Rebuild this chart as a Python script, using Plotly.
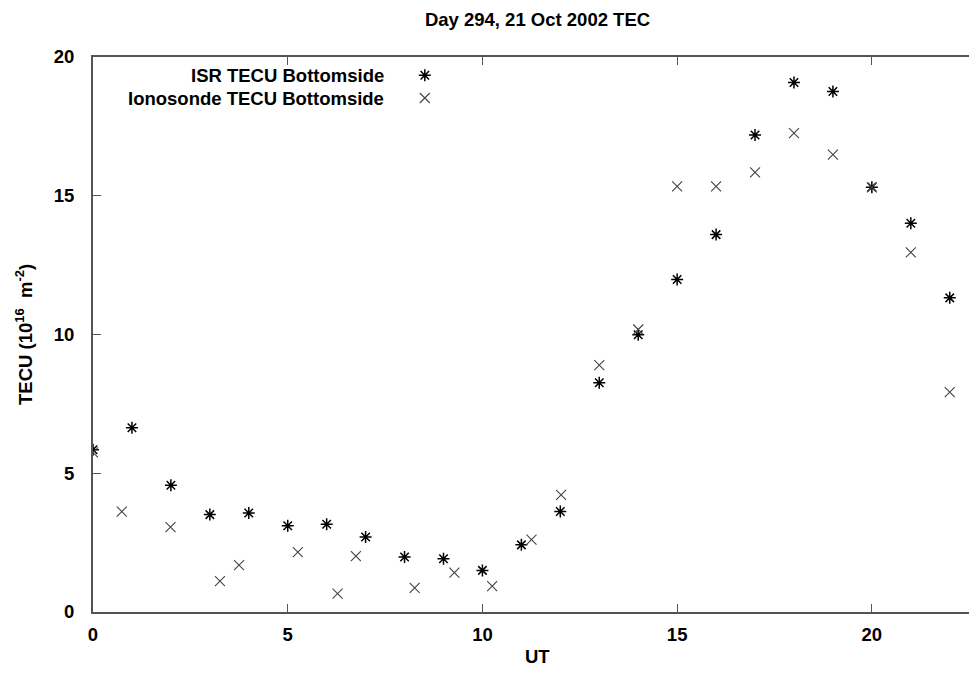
import plotly.graph_objects as go

# ISR TECU bottomside (hourly)
isr_ut = [0, 1, 2, 3, 4, 5, 6, 7, 8, 9, 10, 11, 12, 13, 14, 15, 16, 17, 18, 19, 20, 21, 22]
isr_tec = [5.85, 6.64, 4.57, 3.51, 3.57, 3.11, 3.16, 2.70, 1.98, 1.92, 1.50, 2.42, 3.62,
           8.26, 9.99, 11.98, 13.60, 17.19, 19.08, 18.76, 15.31, 14.01, 11.32]

# Ionosonde TECU bottomside
iono_ut = [0, 0.74, 1.99, 3.26, 3.75, 5.26, 6.28, 6.75, 8.26, 9.28, 10.25, 11.26, 12.02,
           13, 14, 15, 16, 17, 18, 19, 20, 21, 22]
iono_tec = [5.75, 3.62, 3.06, 1.11, 1.69, 2.16, 0.66, 2.01, 0.87, 1.42, 0.93, 2.61, 4.22,
            8.90, 10.18, 15.34, 15.34, 15.84, 17.26, 16.48, 15.30, 12.96, 7.92]

series_names = ["ISR TECU Bottomside", "Ionosonde TECU Bottomside"]
x_ticks = [0, 5, 10, 15, 20]
y_ticks = [0, 5, 10, 15, 20]

FONT = "Liberation Sans, Arial, sans-serif"
FS = 18.5

# page has an 8px body margin; figure sized so it fits the 977x677 window exactly
OFF = 8
W, H = 977 - OFF, 677 - 2 * OFF
L = 93.3 - OFF
T = 56.7 - OFF
R = 0
B = H - (611.7 - OFF)
plot_w = W - L - R
plot_h = H - T - B


def px(xp):
    return (xp - OFF - L) / plot_w


def py(yp):
    return (H - B - (yp - OFF)) / plot_h


isr_marker = dict(symbol="asterisk-open", size=10, color="black",
                  line=dict(color="black", width=1.5))
iono_marker = dict(symbol="x-thin-open", size=10, color="#444444",
                   line=dict(color="#444444", width=1.1))

bold = dict(family=FONT, size=FS, color="black", weight="bold")

fig = go.Figure()
fig.add_trace(go.Scatter(x=isr_ut, y=isr_tec, mode="markers", marker=isr_marker,
                         name=series_names[0], showlegend=False))
fig.add_trace(go.Scatter(x=iono_ut, y=iono_tec, mode="markers", marker=iono_marker,
                         name=series_names[1], showlegend=False))

# gnuplot-style key: right-aligned text followed by marker sample
key_rows = [py(75), py(97.7)]
for name, marker, ky in zip(series_names, [isr_marker, iono_marker], key_rows):
    fig.add_trace(go.Scatter(x=[px(425)], y=[ky], mode="markers", marker=marker,
                             xaxis="x2", yaxis="y2", showlegend=False, hoverinfo="skip"))
    fig.add_annotation(x=px(386), y=ky, xref="paper", yref="paper",
                       text=name, showarrow=False, xanchor="right",
                       yanchor="middle", font=bold)

# axis titles placed like gnuplot does
fig.add_annotation(x=px(25), y=py(334), xref="paper", yref="paper",
                   text="TECU (10<sup>16</sup>  m<sup>-2</sup>)", textangle=-90, showarrow=False,
                   xanchor="center", yanchor="middle", font=bold)
fig.add_annotation(x=px(538), y=py(669), xref="paper", yref="paper",
                   text="UT", showarrow=False, xanchor="center", yanchor="bottom",
                   font=bold, yshift=0)

axis_common = dict(showgrid=False, zeroline=False, showline=True, linecolor="#555555",
                   linewidth=2, ticks="inside", ticklen=8, tickwidth=1, tickcolor="#555555",
                   tickfont=bold, automargin=False)

fig.update_layout(
    width=W, height=H,
    margin=dict(l=L, r=R, t=T, b=B),
    paper_bgcolor="white", plot_bgcolor="white",
    font=dict(family=FONT, size=FS, color="black"),
    title=dict(text="Day 294, 21 Oct 2002 TEC", x=(537.5 - OFF) / W, xanchor="center",
               y=1 - (20 - OFF) / H, yanchor="middle", font=bold),
    xaxis=dict(range=[0, plot_w / 38.93], tickvals=x_ticks, mirror="ticks",
               ticklabelstandoff=5, **axis_common),
    yaxis=dict(range=[0, 20], tickvals=y_ticks, mirror=False,
               ticklabelstandoff=13, **axis_common),
    xaxis2=dict(overlaying="x", range=[0, 1], visible=False),
    yaxis2=dict(overlaying="y", range=[0, 1], visible=False),
)

fig.write_html("out.html")
